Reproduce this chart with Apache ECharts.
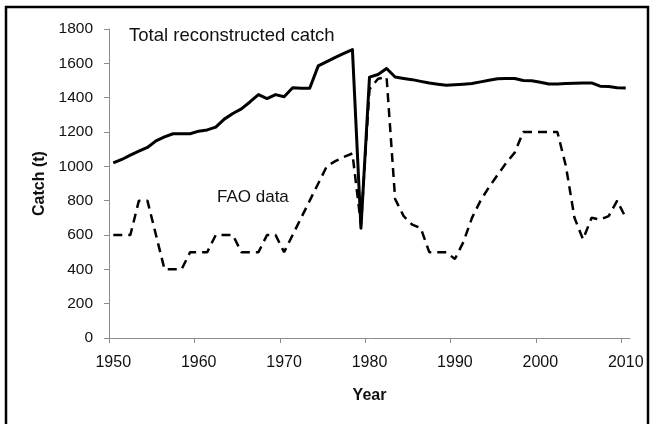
<!DOCTYPE html>
<html>
<head>
<meta charset="utf-8">
<script src="https://cdn.jsdelivr.net/npm/echarts@6/dist/echarts.min.js"></script>
<style>
  html, body { margin: 0; padding: 0; background: #fff; }
  #chart { width: 655px; height: 424px; }
</style>
</head>
<body>
<div id="chart"></div>
<script>
// Years 1950..2010, one value per year
const years = [
  1950, 1951, 1952, 1953, 1954, 1955, 1956, 1957, 1958, 1959,
  1960, 1961, 1962, 1963, 1964, 1965, 1966, 1967, 1968, 1969,
  1970, 1971, 1972, 1973, 1974, 1975, 1976, 1977, 1978, 1979,
  1980, 1981, 1982, 1983, 1984, 1985, 1986, 1987, 1988, 1989,
  1990, 1991, 1992, 1993, 1994, 1995, 1996, 1997, 1998, 1999,
  2000, 2001, 2002, 2003, 2004, 2005, 2006, 2007, 2008, 2009,
  2010
];

// Total reconstructed catch (t)
const reconstructed = [
  1020, 1040, 1065, 1088, 1110, 1148, 1172, 1190, 1190, 1190,
  1205, 1212, 1228, 1275, 1308, 1335, 1375, 1418, 1395, 1418,
  1405, 1458, 1455, 1455, 1585, 1610, 1635, 1658, 1680, 640,
  1520, 1535, 1570, 1520, 1512, 1505, 1495, 1485, 1478, 1472,
  1475, 1478, 1482, 1492, 1502, 1510, 1512, 1512, 1500, 1498,
  1490, 1480, 1480, 1482, 1484, 1486, 1486, 1467, 1465, 1458,
  1456
];

// FAO data (t)
const fao = [
  600, 600, 600, 800, 800, 600, 400, 400, 400, 500,
  500, 500, 600, 600, 600, 500, 500, 500, 600, 600,
  500, 600, 700, 800, 900, 1000, 1030, 1055, 1075, 660,
  1450, 1510, 1520, 810, 710, 660, 640, 500, 500, 500,
  460, 560, 700, 800, 880, 950, 1020, 1080, 1200, 1200,
  1200, 1200, 1200, 1000, 700, 575, 700, 690, 710, 800,
  700
];

const xLabelYears = [1950, 1960, 1970, 1980, 1990, 2000, 2010];
const yTicks = [0, 200, 400, 600, 800, 1000, 1200, 1400, 1600, 1800];

const chart = echarts.init(document.getElementById('chart'), null, { renderer: 'canvas' });

const axisGray = '#8c8c8c';
const font = '"Liberation Sans", Arial, sans-serif';

const option = {
    animation: false,
    backgroundColor: '#fff',
    grid: { left: 109, right: 25, top: 29, bottom: 86 },
    xAxis: {
        type: 'value',
        min: 1949.5,
        max: 2010.5,
        name: 'Year',
        nameLocation: 'middle',
        nameGap: 50,
        nameTextStyle: { fontFamily: font, fontSize: 16, fontWeight: 'bold', color: '#111' },
        axisLine: { show: true, lineStyle: { color: axisGray, width: 1 } },
        axisTick: {
            show: true, length: 5, lineStyle: { color: axisGray },
            // ticks sit on the year boundaries, labels on the years
            customValues: xLabelYears.map(y => y - 0.5)
        },
        axisLabel: {
            customValues: xLabelYears,
            formatter: v => String(v),
            margin: 17,
            fontFamily: font, fontSize: 16, color: '#111'
        },
        splitLine: { show: false }
    },
    yAxis: {
        type: 'value',
        min: yTicks[0],
        max: yTicks[yTicks.length - 1],
        interval: 200,
        name: 'Catch (t)',
        nameLocation: 'middle',
        nameGap: 59,
        nameTextStyle: { fontFamily: font, fontSize: 16, fontWeight: 'bold', color: '#111' },
        axisLine: { show: true, lineStyle: { color: axisGray, width: 1 } },
        axisTick: { show: true, length: 5, lineStyle: { color: axisGray } },
        axisLabel: {
            formatter: v => String(v),
            margin: 16, fontFamily: font, fontSize: 15.5, color: '#111'
        },
        splitLine: { show: false }
    },
    series: [
        {
            name: 'FAO data',
            type: 'line',
            symbol: 'none',
            data: years.map((y, i) => [y, fao[i]]),
            lineStyle: { color: '#000', width: 2.5, type: [9, 6] }
        },
        {
            name: 'Total reconstructed catch',
            type: 'line',
            symbol: 'none',
            data: years.map((y, i) => [y, reconstructed[i]]),
            lineStyle: { color: '#000', width: 3, join: 'round' }
        }
    ],
    graphic: [
        {
            type: 'rect',
            shape: { x: 6, y: 7, width: 642, height: 440 },
            style: { fill: 'none', stroke: '#000', lineWidth: 2.5 }
        },
        {
            type: 'text',
            left: 129, top: 26,
            style: { text: 'Total reconstructed catch', fontFamily: font, fontSize: 18.5, fill: '#111' }
        },
        {
            type: 'text',
            left: 217, top: 189,
            style: { text: 'FAO data', fontFamily: font, fontSize: 17, fill: '#111' }
        }
    ]
};

chart.setOption(option);
</script>
</body>
</html>
